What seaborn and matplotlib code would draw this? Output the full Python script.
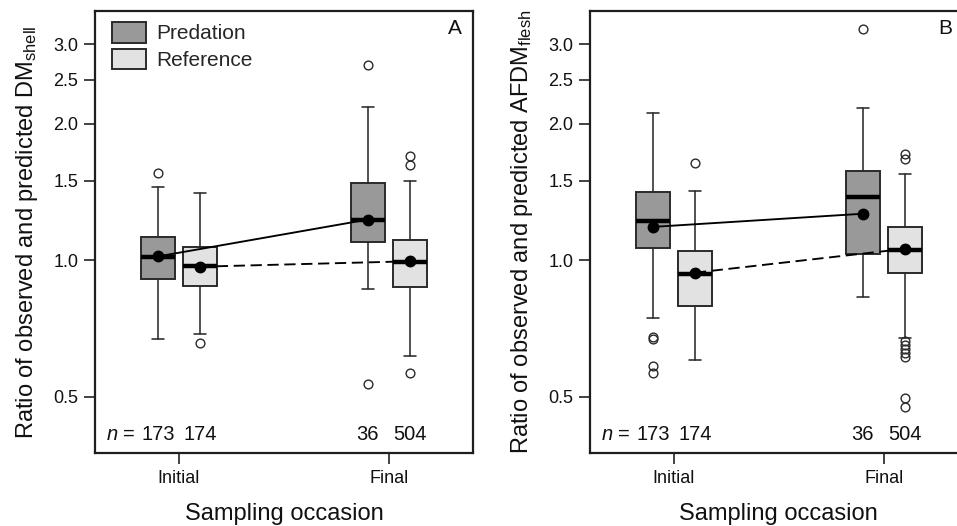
"""
Ratio of observed vs predicted shell DM (A) and flesh AFDM (B),
predation vs reference mussels, initial and final sampling.
"""
import numpy as np
import pandas as pd
import matplotlib
matplotlib.use("Agg")
import matplotlib.pyplot as plt
import matplotlib.patches as mpatches
import matplotlib.transforms as mtransforms
from matplotlib.ticker import NullLocator, FixedLocator, FixedFormatter
import seaborn as sns

OCCASIONS = ["Initial", "Final"]
GROUPS    = ["Predation", "Reference"]
COLORS    = {"Predation": "#999999", "Reference": "#e2e2e2"}
N_LABELS  = [173, 174, 36, 504]          # Pred-Ini, Ref-Ini, Pred-Fin, Ref-Fin
Y_TICKS   = [0.5, 1.0, 1.5, 2.0, 2.5, 3.0]

# ── Panel A: DM shell (order Pred-Ini, Ref-Ini, Pred-Fin, Ref-Fin) ───────────
a_whislo = [0.671, 0.687, 0.863, 0.614]
a_q1     = [0.911, 0.879, 1.096, 0.874]
a_med    = [1.015, 0.971, 1.225, 0.990]
a_q3     = [1.126, 1.072, 1.479, 1.110]
a_whishi = [1.451, 1.405, 2.176, 1.496]
a_mean   = [1.020, 0.968, 1.230, 0.995]
a_fliers = [[1.558], [0.656], [2.697, 0.533], [1.699, 1.623, 0.563]]

# ── Panel B: AFDM flesh ──────────────────────────────────────────────────────
b_whislo = [0.747, 0.603, 0.831, 0.675]
b_q1     = [1.065, 0.794, 1.031, 0.939]
b_med    = [1.218, 0.933, 1.377, 1.055]
b_q3     = [1.414, 1.047, 1.577, 1.184]
b_whishi = [2.110, 1.424, 2.165, 1.553]
b_mean   = [1.185, 0.939, 1.267, 1.060]
b_fliers = [[0.678, 0.669, 0.584, 0.565], [1.637], [3.234],
            [1.716, 1.671, 0.665, 0.650, 0.636, 0.623, 0.611, 0.496, 0.474]]

sns.set_theme(style="ticks")
plt.rcParams["font.family"] = ["Liberation Sans", "DejaVu Sans"]
plt.rcParams["mathtext.fontset"] = "custom"
plt.rcParams["mathtext.rm"] = "Liberation Sans"
plt.rcParams["mathtext.it"] = "Liberation Sans:italic"
plt.rcParams["lines.dashed_pattern"] = [6, 3]

EDGE = "#2a2a2a"
OFFSET = 0.1


def draw_panel(ax, whislo, q1, med, q3, whishi, mean, fliers, ylabel, letter):
    ax.set_yscale("log")
    keys  = [(o, g) for o in OCCASIONS for g in GROUPS]
    stats = [dict(whislo=whislo[i], q1=q1[i], med=med[i], q3=q3[i],
                  whishi=whishi[i], fliers=fliers[i]) for i in range(4)]
    pos   = [OCCASIONS.index(o) + (-OFFSET if g == "Predation" else OFFSET)
             for o, g in keys]

    bp = ax.bxp(stats, positions=pos, widths=0.162, capwidths=0.055,
                patch_artist=True, showfliers=True, manage_ticks=False,
                boxprops=dict(edgecolor=EDGE, linewidth=1.4),
                medianprops=dict(color="black", linewidth=3.2, solid_capstyle="butt"),
                whiskerprops=dict(color=EDGE, linewidth=1.15),
                capprops=dict(color=EDGE, linewidth=1.15),
                flierprops=dict(marker="o", markerfacecolor="none",
                                markeredgecolor=EDGE, markersize=6.3,
                                markeredgewidth=1.0))
    for patch, (o, g) in zip(bp["boxes"], keys):
        patch.set_facecolor(COLORS[g])

    df = pd.DataFrame({"occasion": [k[0] for k in keys],
                       "group":    [k[1] for k in keys],
                       "mean":     mean})
    sns.pointplot(data=df, x="occasion", y="mean", hue="group",
                  order=OCCASIONS, hue_order=GROUPS,
                  palette={g: "black" for g in GROUPS},
                  markers="o", linestyles=["-", "--"], dodge=2 * OFFSET,
                  errorbar=None, legend=False, ax=ax,
                  markersize=7.5, linewidth=1.35)

    ax.set_xlim(-0.40, 1.40)
    ax.set_ylim(0.375, 3.55)
    ax.yaxis.set_major_locator(FixedLocator(Y_TICKS))
    ax.yaxis.set_major_formatter(FixedFormatter([f"{t:.1f}" for t in Y_TICKS]))
    ax.yaxis.set_minor_locator(NullLocator())
    ax.set_xticks([0, 1])
    ax.set_xticklabels(OCCASIONS)
    ax.tick_params(axis="both", labelsize=13, length=8, width=1.2,
                   color="#222222", labelcolor="#111111", pad=4)
    for sp in ax.spines.values():
        sp.set_visible(True)
        sp.set_linewidth(1.6)
        sp.set_color("#1e1e1e")

    ax.set_ylabel(ylabel, fontsize=17, color="#111111")
    ax.yaxis.set_label_coords(-0.145, 0.5)
    ax.set_xlabel("Sampling occasion", fontsize=17, color="#111111", va="top")
    ax.xaxis.set_label_coords(0.5, -0.112)

    # sample sizes
    trans = mtransforms.blended_transform_factory(ax.transData, ax.transAxes)
    for p, n in zip(pos, N_LABELS):
        ax.text(p, 0.042, str(n), transform=trans, ha="center", va="center",
                fontsize=14.5, color="#111111")
    ax.text(pos[0] - 0.106, 0.042, "$n$ =", transform=trans, ha="right",
            va="center", fontsize=14.5, color="#111111")

    ax.text(letter[1], 0.96, letter[0], transform=ax.transAxes, ha="center",
            va="center", fontsize=15, color="#111111")


fig = plt.figure(figsize=(9.57, 5.26), dpi=100)
ax_a = fig.add_axes([0.0993, 0.1382, 0.3947, 0.8409])
ax_b = fig.add_axes([0.6165, 0.1382, 0.3947, 0.8409])

draw_panel(ax_a, a_whislo, a_q1, a_med, a_q3, a_whishi, a_mean, a_fliers,
           r"Ratio of observed and predicted DM$_\mathregular{shell}$", ("A", 0.953))
draw_panel(ax_b, b_whislo, b_q1, b_med, b_q3, b_whishi, b_mean, b_fliers,
           r"Ratio of observed and predicted AFDM$_\mathregular{flesh}$", ("B", 0.940))

handles = [mpatches.Patch(facecolor=COLORS[g], edgecolor=EDGE, linewidth=1.4, label=g)
           for g in GROUPS]
ax_a.legend(handles=handles, loc="upper left", bbox_to_anchor=(0.045, 0.975),
            frameon=False, fontsize=15, handlelength=1.65, handleheight=1.15,
            handletextpad=0.45, labelspacing=0.25, borderpad=0, borderaxespad=0)

fig.savefig("out.png", dpi=100)
plt.close(fig)
